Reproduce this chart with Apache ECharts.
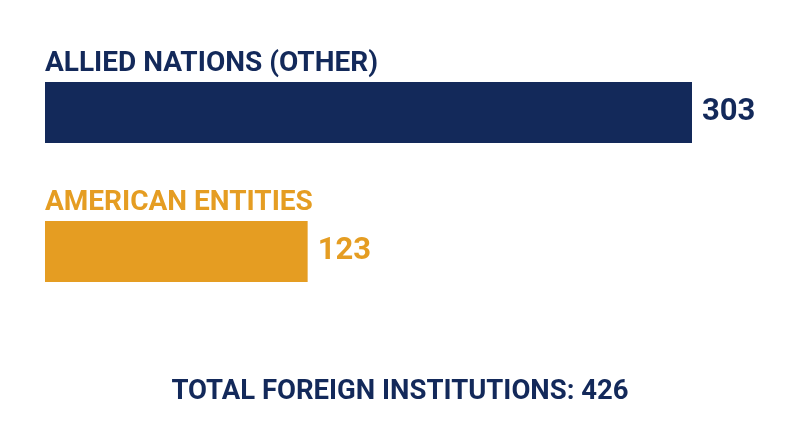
<!DOCTYPE html>
<html><head><meta charset="utf-8">
<script src="https://cdn.jsdelivr.net/npm/echarts@6/dist/echarts.min.js"></script>
<style>html,body{margin:0;background:#fff}#c{width:800px;height:447px}</style>
</head><body><div id="c"></div>
<script>
const categories = ['ALLIED NATIONS (OTHER)', 'AMERICAN ENTITIES'];
const values = [303, 123];
const colors = ['#13295a', '#e59d22'];
const totalText = 'TOTAL FOREIGN INSTITUTIONS: 426';
const font = 'Roboto';
const chart = echarts.init(document.getElementById('c'));
chart.setOption({
  animation: false,
  title: { text: totalText, left: 'center', top: 373, textStyle: { fontFamily: font, fontWeight: 'bold', fontSize: 27.5, color: '#13295a' } },
  grid: { left: 45, right: 108, top: 43, height: 278 },
  xAxis: { type: 'value', min: 0, max: 303, show: false },
  yAxis: { type: 'category', data: categories, inverse: true, show: false },
  series: [
    { type: 'bar', barWidth: 61,
      data: values.map((v, i) => ({ value: v, itemStyle: { color: colors[i] },
        label: { color: colors[i] } })),
      label: { show: true, position: 'right', distance: 10, fontFamily: font, fontWeight: 'bold', fontSize: 31 } },
    { type: 'bar', barWidth: 61, barGap: '-100%', silent: true,
      data: values.map((v, i) => ({ value: v, itemStyle: { color: 'rgba(0,0,0,0)' },
        label: { color: colors[i] } })),
      label: { show: true, position: [0, -32], formatter: p => p.name, fontFamily: font, fontWeight: 'bold', fontSize: 28 } }
  ]
});
</script></body></html>
